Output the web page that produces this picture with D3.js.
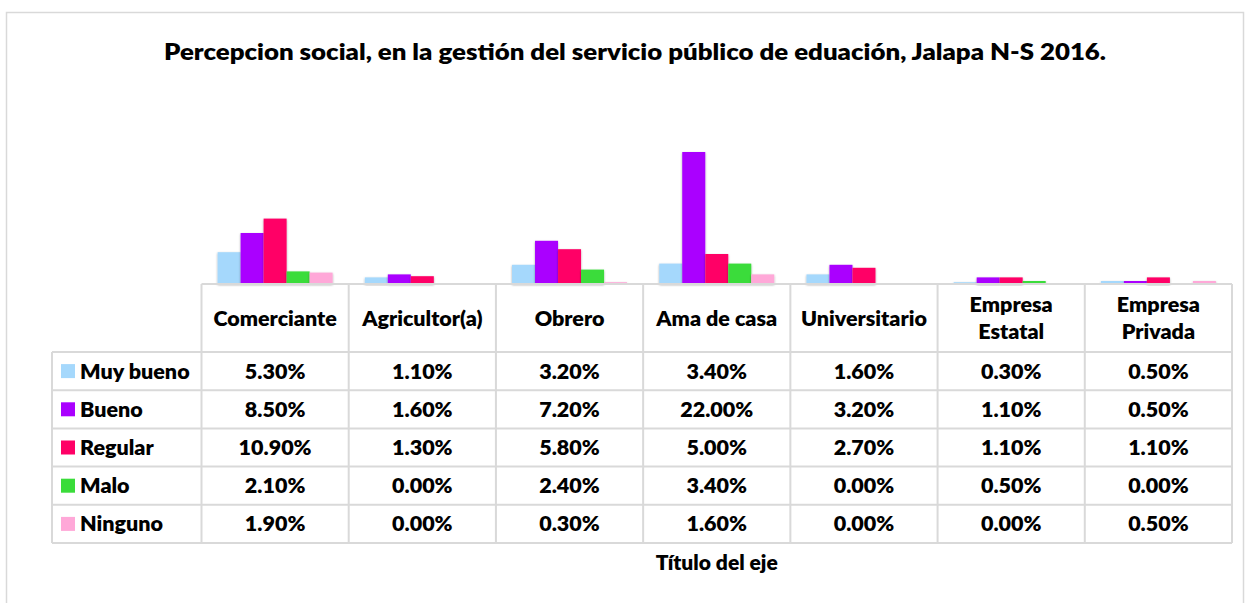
<!DOCTYPE html>
<html><head><meta charset="utf-8">
<script src="https://cdn.jsdelivr.net/npm/d3@7"></script>
<style>body{margin:0;background:#fff}svg{display:block}text{font-family:Lato,"Open Sans",sans-serif;font-weight:800;fill:#000}</style>
</head><body><svg id="c" width="1250" height="603"></svg>
<script>
const title = "Percepcion social, en la gestión del servicio público de eduación, Jalapa N-S 2016.";
const axisTitle = "Título del eje";
const categories = ["Comerciante","Agricultor(a)","Obrero","Ama de casa","Universitario","Empresa Estatal","Empresa Privada"];
const categoryLines = [["Comerciante"],["Agricultor(a)"],["Obrero"],["Ama de casa"],["Universitario"],["Empresa","Estatal"],["Empresa","Privada"]];
const seriesNames = ["Muy bueno","Bueno","Regular","Malo","Ninguno"];
const colors = ["#a5d8fc","#aa00ff","#ff0066","#3adc3a","#ffa8d8"];
const muyBueno = [5.3,1.1,3.2,3.4,1.6,0.3,0.5];
const bueno    = [8.5,1.6,7.2,22.0,3.2,1.1,0.5];
const regular  = [10.9,1.3,5.8,5.0,2.7,1.1,1.1];
const malo     = [2.1,0,2.4,3.4,0,0.5,0];
const ninguno  = [1.9,0,0.3,1.6,0,0,0.5];
const seriesValues = [muyBueno,bueno,regular,malo,ninguno];

const svg = d3.select("#c");
const grid = "#d9d9d9";
svg.append("rect").attr("x",6.5).attr("y",12.5).attr("width",1237).attr("height",620)
  .attr("fill","#fff").attr("stroke",grid).attr("stroke-width",1.5);

const defs = svg.append("defs");
const f = defs.append("filter").attr("id","sh").attr("x","-30%").attr("y","-30%").attr("width","160%").attr("height","160%");
f.append("feDropShadow").attr("dx",0).attr("dy",1).attr("stdDeviation",1.3).attr("flood-color","#000").attr("flood-opacity",0.35);

svg.append("text").attr("x",635).attr("y",60).attr("text-anchor","middle")
  .style("font-size","23px").attr("textLength",942).attr("lengthAdjust","spacingAndGlyphs").text(title);

const left = 201.5, right = 1232, base = 284;
const x = d3.scaleBand().domain(categories).range([left,right]).paddingInner(0).paddingOuter(0);
const xs = d3.scaleBand().domain(seriesNames).range([0,x.bandwidth()]).paddingInner(0).paddingOuter(0.7);
const y = d3.scaleLinear().domain([0,25]).range([base,134]);

const g = svg.append("g");
seriesNames.forEach((s,si)=>{
  seriesValues[si].forEach((d,i)=>{
    if(d<=0) return;
    g.append("rect").attr("x",x(categories[i])+xs(s)).attr("width",xs.bandwidth())
      .attr("y",y(d)).attr("height",base-y(d)).attr("fill",colors[si]).attr("filter","url(#sh)");
  });
});

const rowTop = 352, rowH = 38.2, legendLeft = 52;
const rows = seriesNames.length;
const tg = svg.append("g").attr("stroke",grid).attr("stroke-width",2).attr("fill","none");
tg.append("line").attr("x1",left).attr("x2",right).attr("y1",base).attr("y2",base);
for(let r=0;r<=rows;r++){
  const yy = rowTop + r*rowH;
  tg.append("line").attr("x1",legendLeft).attr("x2",right).attr("y1",yy).attr("y2",yy);
}
const bottom = rowTop+rows*rowH;
tg.append("line").attr("x1",legendLeft).attr("x2",legendLeft).attr("y1",rowTop).attr("y2",bottom);
categories.forEach(c=>{
  tg.append("line").attr("x1",x(c)).attr("x2",x(c)).attr("y1",base).attr("y2",bottom);
});
tg.append("line").attr("x1",right).attr("x2",right).attr("y1",base).attr("y2",bottom);

const fs = "21.5px";
categories.forEach((c,i)=>{
  const lines = categoryLines[i];
  const cx = x(c)+x.bandwidth()/2;
  lines.forEach((l,li)=>{
    const yy = lines.length===1 ? 326 : 312 + li*27;
    svg.append("text").attr("x",cx).attr("y",yy).attr("text-anchor","middle").style("font-size",fs).text(l);
  });
});
seriesNames.forEach((s,si)=>{
  const cy = rowTop + si*rowH + rowH/2;
  svg.append("rect").attr("x",61).attr("y",cy-7).attr("width",14).attr("height",14).attr("fill",colors[si]);
  svg.append("text").attr("x",80).attr("y",cy+7.5).style("font-size",fs).text(s);
  seriesValues[si].forEach((v,i)=>{
    svg.append("text").attr("x",x(categories[i])+x.bandwidth()/2).attr("y",cy+7.5).attr("text-anchor","middle")
      .style("font-size",fs).text(v.toFixed(2)+"%");
  });
});
svg.append("text").attr("x",(left+right)/2).attr("y",570).attr("text-anchor","middle").style("font-size","21px").text(axisTitle);
</script></body></html>
